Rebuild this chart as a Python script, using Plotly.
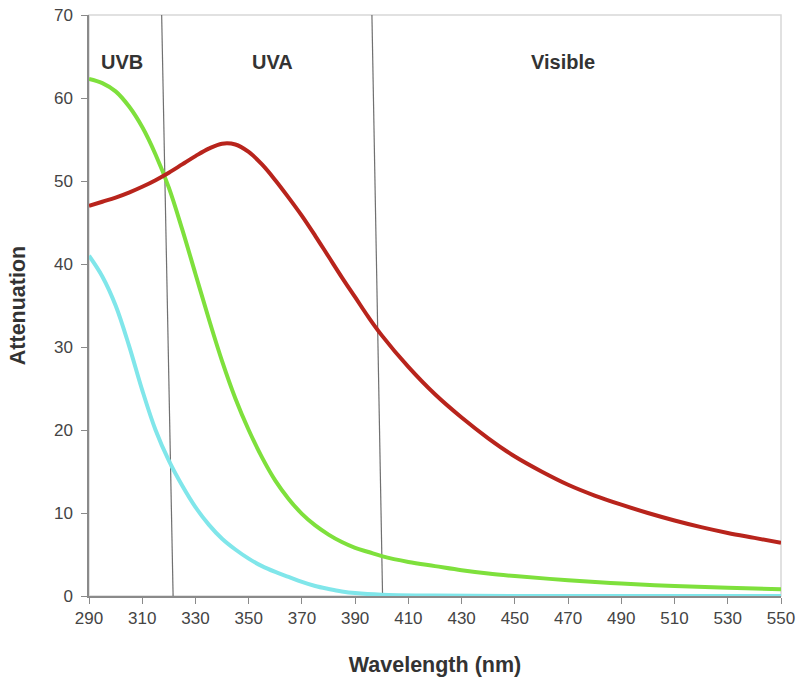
import plotly.graph_objects as go

# Data
red_x = [290, 295, 300, 305, 310, 315, 320, 325, 330, 335, 340, 345, 350, 355, 360, 365, 370, 375,
         380, 385, 390, 395, 400, 410, 420, 430, 440, 450, 460, 470, 480, 490, 500, 510, 520, 530,
         540, 550]
red_y = [47.0, 47.5, 48.0, 48.6, 49.3, 50.1, 51.0, 52.0, 53.0, 53.9, 54.5, 54.4, 53.5, 52.0, 50.1,
         48.0, 45.8, 43.4, 40.9, 38.4, 36.0, 33.6, 31.4, 27.6, 24.3, 21.5, 19.0, 16.8, 15.0, 13.4,
         12.1, 11.0, 10.0, 9.1, 8.3, 7.6, 7.0, 6.4]

green_x = [290, 295, 300, 305, 310, 315, 320, 325, 330, 335, 340, 345, 350, 355, 360, 365, 370, 375,
           380, 385, 390, 395, 400, 410, 420, 430, 440, 450, 470, 490, 510, 530, 550]
green_y = [62.3, 61.8, 60.8, 59.0, 56.5, 53.2, 49.2, 44.2, 38.8, 33.4, 28.3, 23.8, 20.0, 16.7, 13.9,
           11.7, 9.9, 8.5, 7.4, 6.5, 5.8, 5.3, 4.8, 4.1, 3.6, 3.1, 2.7, 2.4, 1.9, 1.5, 1.2, 1.0, 0.8]

cyan_x = [290, 295, 300, 305, 310, 315, 320, 325, 330, 335, 340, 345, 350, 355, 360, 365, 370,
          375, 380, 385, 390, 400, 420, 450, 500, 550]
cyan_y = [41.0, 38.5, 35.0, 30.2, 24.8, 20.0, 16.3, 13.3, 10.7, 8.6, 6.9, 5.6, 4.5, 3.6, 2.9,
          2.3, 1.7, 1.2, 0.85, 0.55, 0.35, 0.15, 0.05, 0.0, 0.0, 0.0]

# Region boundary lines (nm at top of plot, nm at bottom)
boundary_top = [317.3, 396.3]
boundary_bottom = [321.6, 400.3]

region_labels = ["UVB", "UVA", "Visible"]
region_label_x = [302.3, 359, 468]
region_label_y = [64.3, 64.3, 64.3]

x_ticks = list(range(290, 551, 20))
y_ticks = list(range(0, 71, 10))

FONT = "Liberation Sans, Arial, sans-serif"

fig = go.Figure()

for bt, bb in zip(boundary_top, boundary_bottom):
    fig.add_trace(go.Scatter(x=[bt, bb], y=[70, 0], mode="lines",
                             line=dict(color="#707070", width=1.2),
                             showlegend=False, hoverinfo="skip"))

fig.add_trace(go.Scatter(x=cyan_x, y=cyan_y, mode="lines",
                         line=dict(color="#80e6ea", width=4, shape="spline", smoothing=1.0),
                         showlegend=False))
fig.add_trace(go.Scatter(x=green_x, y=green_y, mode="lines",
                         line=dict(color="#7ee03c", width=4, shape="spline", smoothing=1.0),
                         showlegend=False))
fig.add_trace(go.Scatter(x=red_x, y=red_y, mode="lines",
                         line=dict(color="#b8241c", width=4, shape="spline", smoothing=1.0),
                         showlegend=False))

for t, xx, yy in zip(region_labels, region_label_x, region_label_y):
    fig.add_annotation(x=xx, y=yy, text="<b>" + t + "</b>", showarrow=False,
                       font=dict(family=FONT, size=20, color="#333333"))

# light frame (top/right)
fig.add_shape(type="rect", xref="paper", yref="paper", x0=0, y0=0, x1=1, y1=1,
              line=dict(color="#d8d8d8", width=1.5), layer="below")

fig.update_layout(
    width=800, height=683,
    margin=dict(l=89, r=19, t=15, b=87),
    plot_bgcolor="white", paper_bgcolor="white",
    font=dict(family=FONT, size=17, color="#444444"),
    xaxis=dict(range=[290, 550], tickvals=x_ticks, showgrid=False, zeroline=False,
               automargin=False,
               showline=True, linecolor="#8a8a8a", linewidth=1.5,
               ticks="outside", ticklen=6, tickcolor="#8a8a8a",
               tickfont=dict(family=FONT, size=17, color="#444444"),
               title=dict(text="<b>Wavelength (nm)</b>", font=dict(family=FONT, size=21.5, color="#333333"),
                          standoff=30)),
    yaxis=dict(range=[0, 70], tickvals=y_ticks, showgrid=False, zeroline=False,
               automargin=False,
               showline=True, linecolor="#8a8a8a", linewidth=1.5,
               ticks="outside", ticklen=6, tickcolor="#8a8a8a", ticklabelstandoff=5,
               tickfont=dict(family=FONT, size=17, color="#444444"),
               title=dict(text="<b>Attenuation</b>", font=dict(family=FONT, size=21.5, color="#333333"),
                          standoff=22)),
)

fig.write_html("out.html", config={"displayModeBar": False},
               post_script="document.body.style.margin='0';")
